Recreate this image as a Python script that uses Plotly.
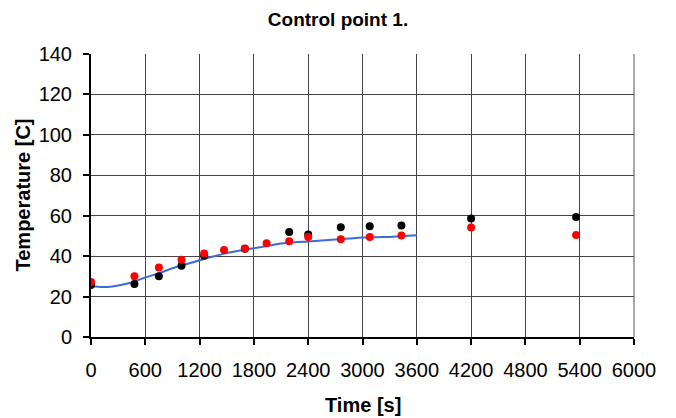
import plotly.graph_objects as go

# Measured series (black dots)
meas_t = [0, 480, 750, 1000, 1250, 1700, 2190, 2400, 2760, 3080, 3430, 4200, 5360]
meas_T = [25.7, 26.2, 30.0, 35.2, 40.2, 43.6, 51.9, 50.7, 54.3, 54.8, 55.2, 58.6, 59.4]

# Second series (red dots)
red_t = [0, 480, 750, 1000, 1250, 1470, 1700, 1940, 2190, 2400, 2760, 3080, 3430, 4200, 5360]
red_T = [27.2, 30.1, 34.4, 38.2, 41.3, 43.1, 43.8, 46.4, 47.4, 49.5, 48.4, 49.5, 50.2, 54.2, 50.4]

# Simulation curve (blue line)
sim_t = [0, 150, 300, 450, 600, 750, 900, 1050, 1200, 1350, 1500, 1650, 1800, 1950, 2100,
         2250, 2400, 2550, 2700, 2850, 3000, 3150, 3300, 3450, 3600]
sim_T = [25.2, 24.7, 25.5, 27.0, 29.5, 31.5, 34.0, 36.0, 38.0, 39.8, 41.5, 42.8, 43.9, 45.0, 46.2,
         46.9, 47.3, 47.8, 48.2, 48.7, 49.2, 49.4, 49.5, 49.8, 50.3]

x_ticks = [0, 600, 1200, 1800, 2400, 3000, 3600, 4200, 4800, 5400, 6000]
y_ticks = [0, 20, 40, 60, 80, 100, 120, 140]

FONT = "Liberation Sans, Arial, sans-serif"

fig = go.Figure()
fig.add_trace(go.Scatter(x=sim_t, y=sim_T, mode="lines", line=dict(color="#3a6bd6", width=2),
                         line_shape="spline", showlegend=False))
fig.add_trace(go.Scatter(x=meas_t, y=meas_T, mode="markers",
                         marker=dict(color="black", size=8), showlegend=False))
fig.add_trace(go.Scatter(x=red_t, y=red_T, mode="markers",
                         marker=dict(color="#ff0000", size=8), showlegend=False))

fig.update_layout(
    width=676, height=418,
    margin=dict(l=91, r=42, t=54, b=81),
    paper_bgcolor="white", plot_bgcolor="white",
    font=dict(family=FONT, color="black", size=20),
    title=dict(text="<b>Control point 1.</b>", x=0.5, xref="container", xanchor="center",
               y=1 - 19 / 418, yref="container", yanchor="middle",
               font=dict(family=FONT, size=19, color="black")),
)

fig.update_xaxes(range=[0, 6000], tickvals=x_ticks, ticktext=[str(v) for v in x_ticks],
                 showgrid=True, gridcolor="#444444", gridwidth=1,
                 showline=True, linecolor="black", linewidth=2,
                 ticks="outside", ticklen=6, tickcolor="black", tickwidth=2,
                 ticklabelstandoff=8, zeroline=False,
                 tickfont=dict(family=FONT, size=20, color="black"))
fig.update_yaxes(range=[0, 140], tickvals=y_ticks, ticktext=[str(v) for v in y_ticks],
                 showgrid=True, gridcolor="#444444", gridwidth=1,
                 showline=True, linecolor="black", linewidth=2,
                 ticks="outside", ticklen=6, tickcolor="black", tickwidth=2,
                 ticklabelstandoff=7, zeroline=False,
                 tickfont=dict(family=FONT, size=20, color="black"))

# plot-area border (gray)
fig.add_shape(type="line", xref="paper", yref="paper", x0=1, x1=1, y0=0, y1=1,
              line=dict(color="#aaaaaa", width=2), layer="below")

fig.add_annotation(text="<b>Temperature [C]</b>", xref="paper", yref="paper",
                   x=(22 - 91) / 543, y=0.5, textangle=-90, showarrow=False,
                   xanchor="center", yanchor="middle",
                   font=dict(family=FONT, size=20, color="black"))
fig.add_annotation(text="<b>Time [s]</b>", xref="paper", yref="paper",
                   x=0.5, y=(337 - 405) / 283.5, showarrow=False,
                   xanchor="center", yanchor="middle",
                   font=dict(family=FONT, size=20, color="black"))

fig.write_html("out.html")
